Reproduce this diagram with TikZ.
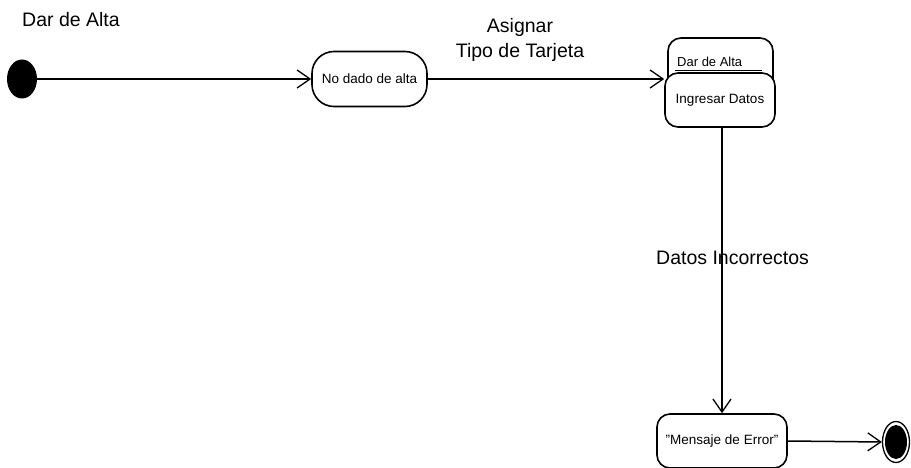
\documentclass[tikz,border=0pt]{standalone}
\usepackage{fontspec}
\setmainfont{Liberation Sans}
\usetikzlibrary{arrows.meta,shapes.geometric,positioning}

\tikzset{
  state/.style={draw, line width=1.6pt, rounded corners=13pt, fill=white,
    inner sep=0pt, font=\fontsize{13.5}{15}\selectfont},
  trans/.style={line width=1.5pt, -{Straight Barb[length=13pt,width=18pt,line width=1.3pt]}},
  biglabel/.style={font=\fontsize{19.5}{22}\selectfont, inner sep=0pt, align=center},
}

\begin{document}
\begin{tikzpicture}[x=1pt,y=-1pt]
  \useasboundingbox (0,0) rectangle (911,468);

  % start and end pseudo-states
  \node[ellipse, fill=black, minimum width=30pt, minimum height=39pt, inner sep=0pt] (init) at (22,79) {};
  \node[ellipse, draw, line width=1.3pt, fill=white, minimum width=27pt, minimum height=41pt, inner sep=0pt] (final) at (896,442) {};
  \node[ellipse, fill=black, minimum width=22pt, minimum height=34pt, inner sep=0pt] at (final.center) {};

  % states
  \node[state, rounded corners=22pt, minimum width=115pt, minimum height=55pt] (nodado) at (369.5,79) {No dado de alta};

  % composite state with its nested sub-state
  \node[state, minimum width=105pt, minimum height=62pt] (alta) at (720.5,69) {};
  \node[font=\fontsize{13}{15}\selectfont, inner sep=0pt, anchor=base west] (altalbl) at (677,67) {Dar de Alta};
  \draw[line width=0.9pt] (675,70) -- (762,70);
  \node[state, minimum width=110pt, minimum height=54pt] (ingresar) at (720,100) {Ingresar Datos};

  \node[state, minimum width=130pt, minimum height=54pt] (mensaje) at (722,441) {"Mensaje de Error"};

  % transitions
  \draw[trans] (init) -- (nodado);
  \draw[trans] (nodado.east) -- (nodado.east -| ingresar.west);
  \draw[trans] (ingresar.south -| 722,0) -- (mensaje.north);
  \draw[trans] (mensaje.east) -- (final.west);

  % labels
  \node[biglabel, anchor=west] (lblalta) at (22,20) {Dar de Alta};
  \node[biglabel] (lblasignar) at (520,40) {Asignar\\[3pt]Tipo de Tarjeta};
  \node[biglabel, anchor=west] (lbldatos) at (656,258) {Datos Incorrectos};
\end{tikzpicture}
\end{document}
